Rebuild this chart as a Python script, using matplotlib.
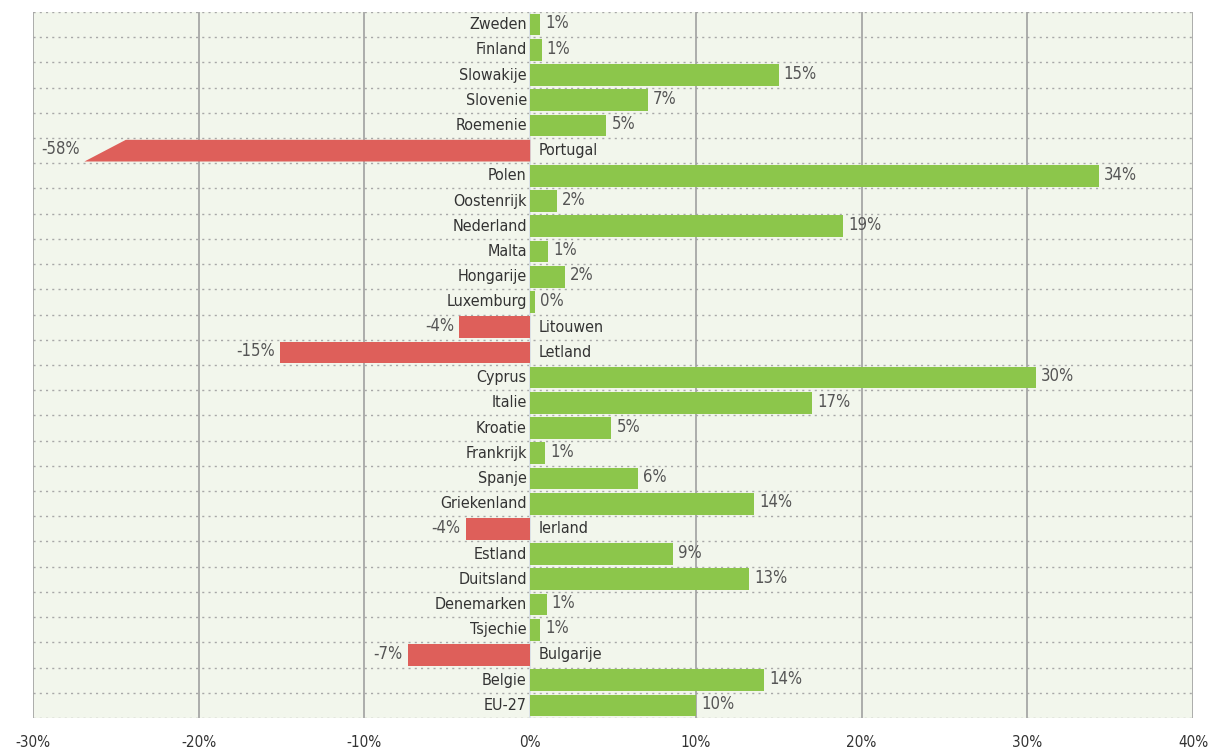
import matplotlib.pyplot as plt
from matplotlib.patches import Polygon

# landen van boven naar beneden
landen = ['Zweden', 'Finland', 'Slowakije', 'Slovenie', 'Roemenie', 'Portugal',
          'Polen', 'Oostenrijk', 'Nederland', 'Malta', 'Hongarije', 'Luxemburg',
          'Litouwen', 'Letland', 'Cyprus', 'Italie', 'Kroatie', 'Frankrijk',
          'Spanje', 'Griekenland', 'Ierland', 'Estland', 'Duitsland',
          'Denemarken', 'Tsjechie', 'Bulgarije', 'Belgie', 'EU-27']
waarden = [0.6, 0.7, 15.0, 7.1, 4.6, -58.0, 34.3, 1.6, 18.9, 1.1, 2.1, 0.3,
           -4.3, -15.1, 30.5, 17.0, 4.9, 0.9, 6.5, 13.5, -3.9, 8.6, 13.2,
           1.0, 0.6, -7.4, 14.1, 10.0]
labels = ['1%', '1%', '15%', '7%', '5%', '-58%', '34%', '2%', '19%', '1%', '2%',
          '0%', '-4%', '-15%', '30%', '17%', '5%', '1%', '6%', '14%', '-4%',
          '9%', '13%', '1%', '1%', '-7%', '14%', '10%']
xticks = [-30, -20, -10, 0, 10, 20, 30, 40]
xticklabels = ['-30%', '-20%', '-10%', '0%', '10%', '20%', '30%', '40%']

plt.rcParams['font.family'] = ['DejaVu Sans']
plt.rcParams['font.stretch'] = 'condensed'

groen = '#8cc64b'
rood = '#de5f5a'
tekst = '#333333'
waardekleur = '#555555'

fig = plt.figure(figsize=(12.1, 7.49), dpi=100)
ax = fig.add_axes([0.0273, 0.0414, 0.9587, 0.9426])
ax.set_facecolor('#f2f6ec')

xmin, xmax = -30, 40
ax.set_xlim(xmin, xmax)
n = len(landen)
ax.set_ylim(n - 0.5, -0.5)

hoogte = 0.86
fs = 11.5
fsw = 12
for i, (land, w, lab) in enumerate(zip(landen, waarden, labels)):
    if w < xmin:
        # afgekapte balk met schuine punt
        eind = xmin + 3.1
        schuin = 2.5
        poly = Polygon([(0, i - hoogte / 2), (eind + schuin, i - hoogte / 2),
                        (eind, i + hoogte / 2), (0, i + hoogte / 2)],
                       closed=True, facecolor=rood, edgecolor='none', zorder=3)
        ax.add_patch(poly)
        ax.text(eind - 0.3, i - 0.05, lab, ha='right', va='center',
                fontsize=fsw, color=waardekleur, zorder=4)
        ax.text(0.5, i, land, ha='left', va='center', fontsize=fs,
                color=tekst, zorder=4)
    elif w < 0:
        ax.barh(i, w, height=hoogte, color=rood, zorder=3)
        ax.text(w - 0.3, i - 0.05, lab, ha='right', va='center',
                fontsize=fsw, color=waardekleur, zorder=4)
        ax.text(0.5, i, land, ha='left', va='center', fontsize=fs,
                color=tekst, zorder=4)
    else:
        ax.barh(i, w, height=hoogte, color=groen, zorder=3)
        ax.text(w + 0.3, i - 0.05, lab, ha='left', va='center',
                fontsize=fsw, color=waardekleur, zorder=4)
        ax.text(-0.2, i, land, ha='right', va='center', fontsize=fs,
                color=tekst, zorder=4)

# gestippelde lijnen tussen de rijen
for k in range(n + 1):
    ax.axhline(k - 0.5, color='#a8a8a8', lw=1, ls=(0, (1.5, 3)), zorder=1)

# verticale rasterlijnen
for x in xticks:
    ax.axvline(x, color='#a0a0a0', lw=1.2, zorder=2)
ax.axvline(0, color='#e4ecf2', lw=1.2, zorder=2.5)

ax.set_xticks(xticks)
ax.set_xticklabels(xticklabels, fontsize=11, color=tekst)
ax.set_yticks([])
ax.tick_params(axis='x', length=0, pad=12)
for s in ax.spines.values():
    s.set_visible(False)

fig.savefig('out.png', dpi=100, facecolor='white')
